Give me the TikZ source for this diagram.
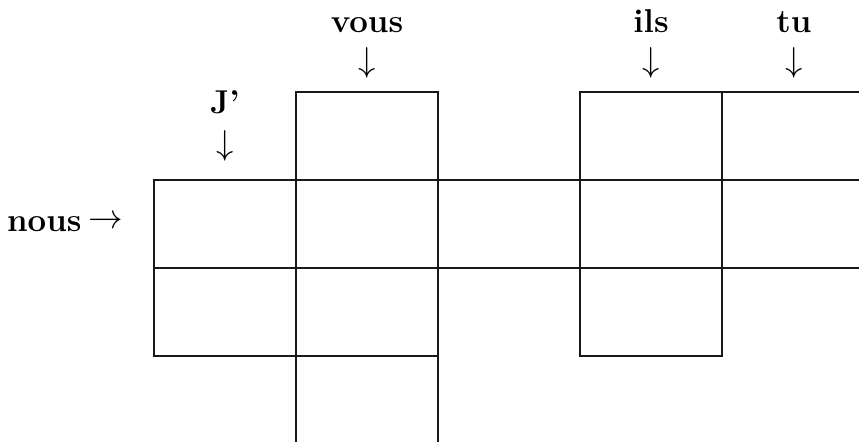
\documentclass[tikz,border=0pt]{standalone}
\usepackage{amsmath}

\begin{document}
\begin{tikzpicture}[x=0.5pt,y=-0.5pt,
  cell/.style={draw=black!90,line width=1pt},
  word/.style={font=\fontsize{16.5}{19}\selectfont\bfseries,anchor=base,inner sep=0pt},
  pointer/.style={font=\fontsize{18}{21}\selectfont,inner sep=0pt}]
\useasboundingbox (0,0) rectangle (859,442);
\clip (0,0) rectangle (859,442);
% grid cells: column/row
\foreach \c/\r in {1/0,1/1,1/2,1/3,0/1,0/2,2/1,3/0,3/1,3/2,4/0,4/1}
    \draw[cell] ({154+142*\c},{92+88*\r}) rectangle +(142,88);
% words and arrows
\node[word] (vous) at (367,33) {vous};
\node[pointer] (vousarrow) at (367,63) {$\downarrow$};
\node[word] (je) at (225,114) {J’};
\node[pointer] (jearrow) at (225,146) {$\downarrow$};
\node[word] (ils) at (651,33) {ils};
\node[pointer] (ilsarrow) at (651,63) {$\downarrow$};
\node[word] (tu) at (794,33) {tu};
\node[pointer] (tuarrow) at (794,63) {$\downarrow$};
\node[word,anchor=base east] (nous) at (82,232) {nous};
\node[pointer,anchor=west] (nousarrow) at (88,222) {$\rightarrow$};
\end{tikzpicture}
\end{document}
